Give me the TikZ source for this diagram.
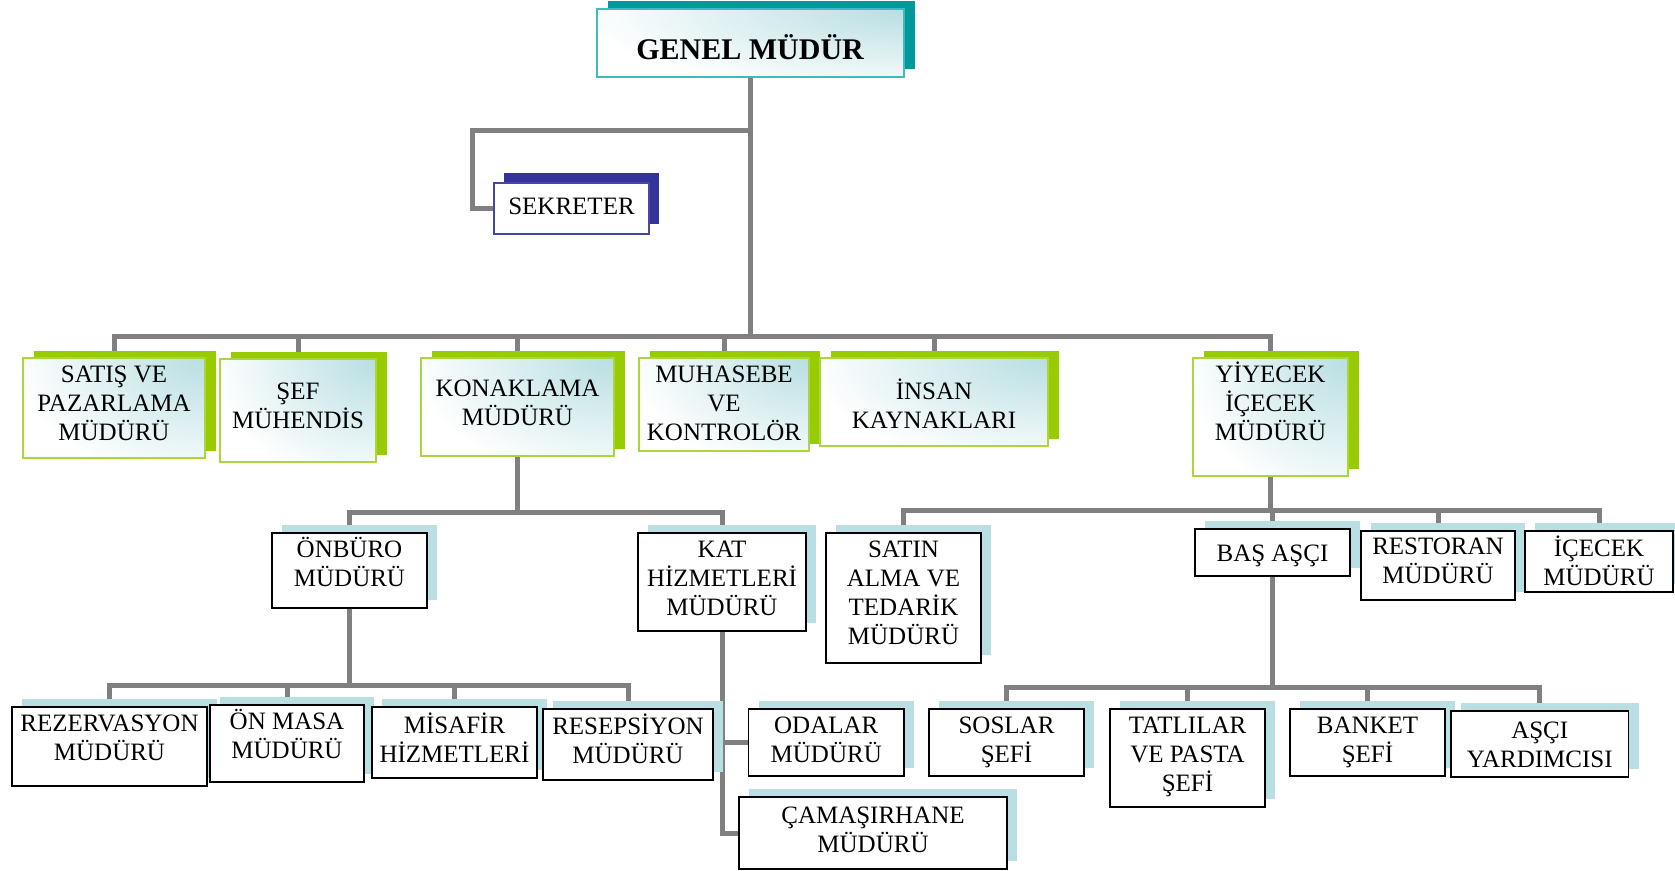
\documentclass[tikz,border=0pt]{standalone}
\usepackage{fontspec}
\setmainfont{Liberation Serif}
\usetikzlibrary{shadows,backgrounds,calc}
\definecolor{cgray}{HTML}{808080}
\definecolor{tealS}{HTML}{009999}
\definecolor{tealB}{HTML}{3CBDBD}
\definecolor{navyS}{HTML}{333399}
\definecolor{navyB}{HTML}{4646A8}
\definecolor{greenS}{HTML}{99CC00}
\definecolor{greenB}{HTML}{A8D63C}
\definecolor{lblue}{HTML}{B9DFE2}
\definecolor{gradC}{HTML}{B8DEE2}
\newcommand{\boxtxt}[4]{\parbox[c][#2pt][t]{#1pt}{\centering\lineskiplimit=-100pt\vspace*{#3pt}\rule{0pt}{24pt}#4}}
\tikzset{
  conn/.style={draw=cgray, line width=5pt},
  base/.style={inner sep=0pt, outer sep=0pt, font=\fontsize{25}{29}\selectfont, text=black},
  gradfill/.style={fill=white, path picture={
      \shade[inner color=gradC, outer color=white]
        let \p1=(path picture bounding box.south west), \p2=(path picture bounding box.north east) in
        (\p2) ellipse [x radius={1.05*(\x2-\x1)}, y radius={1.25*(\y2-\y1)}];}},
  genbox/.style={base, draw=tealB, line width=2pt, gradfill,
    drop shadow={shadow xshift=11pt, shadow yshift=8pt, fill=tealS, opacity=1}},
  sekbox/.style={base, draw=navyB, line width=2pt, fill=white,
    drop shadow={shadow xshift=10pt, shadow yshift=10pt, fill=navyS, opacity=1}},
  grnbox/.style={base, draw=greenB, line width=2pt, gradfill,
    drop shadow={shadow xshift=10.5pt, shadow yshift=7pt, fill=greenS, opacity=1}},
  lowbox/.style={base, draw=black, line width=1.8pt, fill=white,
    drop shadow={shadow xshift=10pt, shadow yshift=8pt, fill=lblue, opacity=1}},
}
\begin{document}
\begin{tikzpicture}[x=1pt,y=-1pt]
\useasboundingbox (0,0) rectangle (1675,870);
% top
\node[genbox] (genel) at (750.25,43) {\parbox[c][68pt][t]{307.5pt}{\centering\fontsize{30}{34}\selectfont\vspace*{22pt}\rule{0pt}{28pt}\textbf{GENEL MÜDÜR}}};
\node[sekbox] (sekreter) at (571.5,208.5) {\boxtxt{155}{51}{7.7}{SEKRETER}};
% level 1
\node[grnbox] (satis) at (114,408) {\boxtxt{182}{100}{0.4}{SATIŞ VE\\PAZARLAMA\\MÜDÜRÜ}};
\node[grnbox] (sef) at (298,410.5) {\boxtxt{156}{103}{16.7}{ŞEF\\MÜHENDİS}};
\node[grnbox] (konaklama) at (517.5,407) {\boxtxt{193}{98}{14.8}{KONAKLAMA\\MÜDÜRÜ}};
\node[grnbox] (muhasebe) at (724,404.5) {\boxtxt{170}{93}{0.1}{MUHASEBE\\VE\\KONTROLÖR}};
\node[grnbox] (insan) at (934,402) {\boxtxt{228}{88}{17.4}{İNSAN\\KAYNAKLARI}};
\node[grnbox] (yiyecek) at (1270.5,417) {\boxtxt{155}{118}{0.1}{YİYECEK\\İÇECEK\\MÜDÜRÜ}};
% level 2
\node[lowbox] (onburo) at (349.5,570.5) {\boxtxt{155}{75}{0.8}{ÖNBÜRO\\MÜDÜRÜ}};
\node[lowbox] (kat) at (722,582) {\boxtxt{168}{98}{0.8}{KAT\\HİZMETLERİ\\MÜDÜRÜ}};
\node[lowbox] (satin) at (903.5,598) {\boxtxt{155}{130}{0.8}{SATIN\\ALMA VE\\TEDARİK\\MÜDÜRÜ}};
\node[lowbox] (bas) at (1272.5,552.5) {\boxtxt{155}{47}{8.1}{BAŞ AŞÇI}};
\node[lowbox] (restoran) at (1438,565.5) {\boxtxt{154}{69}{-1}{RESTORAN\\MÜDÜRÜ}};
\node[lowbox] (icecek) at (1599,561.5) {\boxtxt{148}{61}{1}{İÇECEK\\MÜDÜRÜ}};
% level 3
\node[lowbox] (rez) at (109.5,746.5) {\boxtxt{195}{79}{0}{REZERVASYON\\MÜDÜRÜ}};
\node[lowbox] (onmasa) at (287,743.5) {\boxtxt{154}{77}{0.7}{ÖN MASA\\MÜDÜRÜ}};
\node[lowbox] (misafir) at (454.5,742.5) {\boxtxt{165}{71}{2.4}{MİSAFİR\\HİZMETLERİ}};
\node[lowbox] (resepsiyon) at (628,744.5) {\boxtxt{170}{71}{1.4}{RESEPSİYON\\MÜDÜRÜ}};
\node[lowbox] (odalar) at (826.25,742.5) {\boxtxt{155.5}{67}{0.4}{ODALAR\\MÜDÜRÜ}};
\node[lowbox] (camasir) at (873,833) {\boxtxt{268}{72}{2.4}{ÇAMAŞIRHANE\\MÜDÜRÜ}};
\node[lowbox] (soslar) at (1006.5,742.5) {\boxtxt{155}{67}{0.4}{SOSLAR\\ŞEFİ}};
\node[lowbox] (tatlilar) at (1187.5,758) {\boxtxt{155}{98}{0.4}{TATLILAR\\VE PASTA\\ŞEFİ}};
\node[lowbox] (banket) at (1367.5,742.5) {\boxtxt{155}{67}{0.4}{BANKET\\ŞEFİ}};
\node[lowbox] (asci) at (1539.75,744) {\boxtxt{177.5}{66}{3.4}{AŞÇI\\YARDIMCISI}};
% bus points
\coordinate (s1) at (750.25,130);
\coordinate (b1) at (750.25,336);
\coordinate (b2) at (517.5,512);
\coordinate (b3) at (1270.5,510);
\coordinate (b4) at (349.5,685);
\coordinate (b5) at (1272.5,687);
\begin{scope}[on background layer]
\draw[conn] (genel.south) -- (b1);
\draw[conn] (s1) -| ([xshift=-22pt]sekreter.west) -- (sekreter.west);
\foreach \n in {satis,sef,konaklama,muhasebe,insan,yiyecek} \draw[conn] (b1) -| (\n.north);
\draw[conn] (konaklama.south) -- (b2);
\foreach \n in {onburo,kat} \draw[conn] (b2) -| (\n.north);
\draw[conn] (yiyecek.south) -- (b3);
\foreach \n in {satin,bas,restoran,icecek} \draw[conn] (b3) -| (\n.north);
\draw[conn] (onburo.south) -- (b4);
\foreach \n in {rez,onmasa,misafir,resepsiyon} \draw[conn] (b4) -| (\n.north);
\draw[conn] (kat.south) |- (odalar.west);
\draw[conn] (kat.south) |- (camasir.west);
\draw[conn] (bas.south) -- (b5);
\foreach \n in {soslar,tatlilar,banket,asci} \draw[conn] (b5) -| (\n.north);
\end{scope}
\end{tikzpicture}
\end{document}
